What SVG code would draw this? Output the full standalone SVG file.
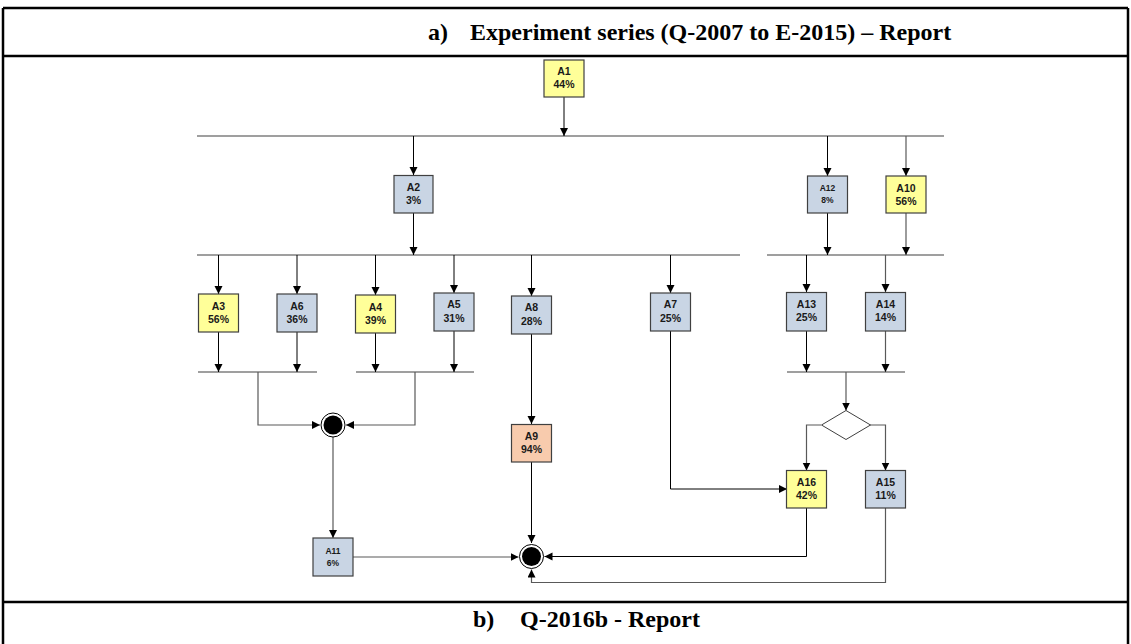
<svg xmlns="http://www.w3.org/2000/svg" width="1131" height="644" viewBox="0 0 1131 644">
<style>
.hdr{font-family:"Liberation Serif","Times New Roman",serif;font-weight:bold;font-size:24px;fill:#000}
.frame{stroke:#000;stroke-width:2.5;fill:none}
.n{stroke:#404040;stroke-width:1.2}
.y{fill:#FFFF99}
.b{fill:#C9D5E4}
.o{fill:#F8CBAD}
.t{font-family:"Liberation Sans",Arial,sans-serif;font-weight:bold;font-size:10.5px;fill:#1a1a1a;text-anchor:middle}
.ts{font-size:8.5px}
.bar{stroke:#7f7f7f;stroke-width:1.6;fill:none}
.c{stroke:#000;stroke-width:1;fill:none}
.g{stroke:#595959;stroke-width:1.2;fill:none}
</style>
<defs>
<marker id="ah" markerUnits="userSpaceOnUse" markerWidth="9" markerHeight="9" refX="8" refY="4" orient="auto">
<path d="M0,0 L8,4 L0,8 z" fill="#000"/>
</marker>
</defs>
<rect width="1131" height="644" fill="#fff"/>
<g id="frame">
<line class="frame" x1="3" y1="8" x2="1128" y2="8"/>
<line class="frame" x1="3" y1="8" x2="3" y2="644"/>
<line class="frame" x1="1128" y1="8" x2="1128" y2="644"/>
<line class="frame" x1="3" y1="56" x2="1128" y2="56"/>
<line class="frame" x1="3" y1="602" x2="1128" y2="602"/>
<text class="hdr" x="428" y="40">a)</text>
<text class="hdr" x="470" y="40">Experiment series (Q-2007 to E-2015) – Report</text>
<text class="hdr" x="473" y="627">b)</text>
<text class="hdr" x="520" y="627">Q-2016b - Report</text>
</g>
<g id="connectors">
<line class="bar" x1="197" y1="136" x2="944" y2="136"/>
<line class="bar" x1="197" y1="255" x2="740" y2="255"/>
<line class="bar" x1="767" y1="255" x2="944" y2="255"/>
<line class="bar" x1="198" y1="372" x2="317" y2="372"/>
<line class="bar" x1="356" y1="372" x2="474" y2="372"/>
<line class="bar" x1="787" y1="372" x2="905" y2="372"/>
<line class="c" x1="564" y1="97" x2="564" y2="136" marker-end="url(#ah)"/>
<line class="c" x1="413.5" y1="136" x2="413.5" y2="175" marker-end="url(#ah)"/>
<line class="c" x1="827.5" y1="136" x2="827.5" y2="176" marker-end="url(#ah)"/>
<line class="g" x1="906" y1="136" x2="906" y2="176" marker-end="url(#ah)"/>
<line class="c" x1="413.5" y1="213" x2="413.5" y2="255" marker-end="url(#ah)"/>
<line class="c" x1="827.5" y1="213" x2="827.5" y2="255" marker-end="url(#ah)"/>
<line class="g" x1="906" y1="213" x2="906" y2="255" marker-end="url(#ah)"/>
<line class="c" x1="218.5" y1="255" x2="218.5" y2="294" marker-end="url(#ah)"/>
<line class="c" x1="297" y1="255" x2="297" y2="294" marker-end="url(#ah)"/>
<line class="c" x1="375.5" y1="255" x2="375.5" y2="295" marker-end="url(#ah)"/>
<line class="c" x1="454" y1="255" x2="454" y2="293" marker-end="url(#ah)"/>
<line class="c" x1="531.5" y1="255" x2="531.5" y2="296" marker-end="url(#ah)"/>
<line class="c" x1="670.5" y1="255" x2="670.5" y2="293" marker-end="url(#ah)"/>
<line class="c" x1="806.5" y1="255" x2="806.5" y2="292" marker-end="url(#ah)"/>
<line class="g" x1="885.5" y1="255" x2="885.5" y2="292" marker-end="url(#ah)"/>
<line class="c" x1="218.5" y1="332" x2="218.5" y2="372" marker-end="url(#ah)"/>
<line class="c" x1="297" y1="332" x2="297" y2="372" marker-end="url(#ah)"/>
<line class="c" x1="375.5" y1="333" x2="375.5" y2="372" marker-end="url(#ah)"/>
<line class="c" x1="454" y1="331" x2="454" y2="372" marker-end="url(#ah)"/>
<line class="c" x1="806.5" y1="331" x2="806.5" y2="372" marker-end="url(#ah)"/>
<line class="g" x1="885.5" y1="331" x2="885.5" y2="372" marker-end="url(#ah)"/>
<polyline class="g" points="258,372 258,425 320,425" marker-end="url(#ah)"/>
<polyline class="g" points="415,372 415,425 346,425" marker-end="url(#ah)"/>
<line class="g" x1="333" y1="437" x2="333" y2="538" marker-end="url(#ah)"/>
<line class="c" x1="531.5" y1="334" x2="531.5" y2="424" marker-end="url(#ah)"/>
<line class="c" x1="531.5" y1="462" x2="531.5" y2="543" marker-end="url(#ah)"/>
<line class="g" x1="353" y1="557" x2="518.5" y2="557" marker-end="url(#ah)"/>
<polyline class="c" points="670.5,331 670.5,489 787,489" marker-end="url(#ah)"/>
<line class="g" x1="846" y1="372" x2="846" y2="410.5" marker-end="url(#ah)"/>
<polyline class="g" points="821,425 806.5,425 806.5,470.5" marker-end="url(#ah)"/>
<polyline class="g" points="870,425 885.5,425 885.5,470.5" marker-end="url(#ah)"/>
<polyline class="c" points="806.5,508 806.5,556.5 544.5,556.5" marker-end="url(#ah)"/>
<polyline class="g" points="885.5,508 885.5,582.5 531.5,582.5 531.5,569.5" marker-end="url(#ah)"/>
</g>
<g id="A1"><rect class="n y" x="544" y="60" width="40" height="37"/><text class="t" x="564" y="75">A1</text><text class="t" x="564" y="88">44%</text></g>
<g id="A2"><rect class="n b" x="394" y="175.5" width="39" height="37.5"/><text class="t" x="413.5" y="191">A2</text><text class="t" x="413.5" y="204">3%</text></g>
<g id="A12"><rect class="n b" x="807.5" y="176" width="40" height="37"/><text class="t ts" x="827.5" y="191">A12</text><text class="t ts" x="827.5" y="203">8%</text></g>
<g id="A10"><rect class="n y" x="886" y="176" width="40" height="37"/><text class="t" x="906" y="192">A10</text><text class="t" x="906" y="205">56%</text></g>
<g id="A3"><rect class="n y" x="198.5" y="294" width="40" height="38"/><text class="t" x="218.5" y="310">A3</text><text class="t" x="218.5" y="323">56%</text></g>
<g id="A6"><rect class="n b" x="277" y="294" width="40" height="38"/><text class="t" x="297" y="310">A6</text><text class="t" x="297" y="323">36%</text></g>
<g id="A4"><rect class="n y" x="355.5" y="295" width="40" height="38"/><text class="t" x="375.5" y="311">A4</text><text class="t" x="375.5" y="324">39%</text></g>
<g id="A5"><rect class="n b" x="434" y="293" width="40" height="38"/><text class="t" x="454" y="308">A5</text><text class="t" x="454" y="322">31%</text></g>
<g id="A8"><rect class="n b" x="511.5" y="296" width="40" height="38"/><text class="t" x="531.5" y="311">A8</text><text class="t" x="531.5" y="325">28%</text></g>
<g id="A7"><rect class="n b" x="650.5" y="293" width="40" height="38"/><text class="t" x="670.5" y="308">A7</text><text class="t" x="670.5" y="322">25%</text></g>
<g id="A13"><rect class="n b" x="786.5" y="292.5" width="40" height="38.5"/><text class="t" x="806.5" y="308">A13</text><text class="t" x="806.5" y="321">25%</text></g>
<g id="A14"><rect class="n b" x="865.5" y="292.5" width="40" height="38.5"/><text class="t" x="885.5" y="308">A14</text><text class="t" x="885.5" y="321">14%</text></g>
<g id="J1"><circle cx="333" cy="425" r="12" fill="#fff" stroke="#000" stroke-width="1"/><circle cx="333" cy="425" r="9.5" fill="#000"/></g>
<g id="A9"><rect class="n o" x="511.5" y="424.5" width="40" height="37.5"/><text class="t" x="531.5" y="440">A9</text><text class="t" x="531.5" y="453">94%</text></g>
<g id="D1"><polygon points="846,410.5 870.5,425 846,439.5 821.5,425" fill="#fff" stroke="#404040" stroke-width="1"/></g>
<g id="A16"><rect class="n y" x="786.5" y="470.5" width="40" height="37.5"/><text class="t" x="806.5" y="486">A16</text><text class="t" x="806.5" y="499">42%</text></g>
<g id="A15"><rect class="n b" x="865.5" y="470.5" width="40" height="37.5"/><text class="t" x="885.5" y="486">A15</text><text class="t" x="885.5" y="499">11%</text></g>
<g id="A11"><rect class="n b" x="313" y="538" width="40" height="38"/><text class="t ts" x="333" y="554">A11</text><text class="t ts" x="333" y="566">6%</text></g>
<g id="J2"><circle cx="531.5" cy="556.5" r="12" fill="#fff" stroke="#000" stroke-width="1"/><circle cx="531.5" cy="556.5" r="9.5" fill="#000"/></g>
</svg>
